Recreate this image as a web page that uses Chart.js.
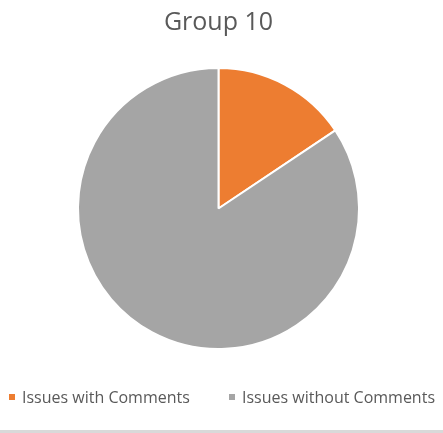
<!DOCTYPE html>
<html>
<head>
<meta charset="utf-8">
<script src="https://cdn.jsdelivr.net/npm/chart.js@4.4.0/dist/chart.umd.min.js"></script>
<style>
  html, body { margin: 0; padding: 0; background: #ffffff; }
  #wrap { width: 443px; height: 430px; border-bottom: 3px solid #d9d9d9; position: relative; }
  #legend { position: absolute; left: 0; top: 386px; width: 443px; height: 22px; font-family: 'Open Sans'; font-size: 16px; color: #595959; }
  .item { position: absolute; top: 0; height: 22px; line-height: 22px; white-space: nowrap; }
  .box { position: absolute; top: 8px; width: 6px; height: 6px; }
  .txt { position: absolute; top: 0; }
</style>
</head>
<body>
<div id="wrap"><canvas id="c" width="443" height="430"></canvas><div id="legend"></div></div>
<script>
const categories = ["Issues with Comments", "Issues without Comments"];
const values = [5, 27];
const colors = ["#ED7D31", "#A5A5A5"];
const titleText = "Group 10";
const legendX = [9, 229];

new Chart(document.getElementById('c'), {
  type: 'pie',
  data: {
    labels: categories,
    datasets: [{
      data: values,
      backgroundColor: colors,
      borderColor: '#ffffff',
      borderWidth: 2
    }]
  },
  options: {
    responsive: false,
    animation: false,
    layout: { padding: { top: 0, bottom: 80, left: 0, right: 6 } },
    plugins: {
      title: {
        display: true,
        text: titleText,
        color: '#595959',
        font: { family: "'Open Sans'", size: 25, weight: 'normal' },
        padding: { top: 8, bottom: 29 }
      },
      legend: { display: false },
      tooltip: { enabled: false }
    }
  }
});

const leg = document.getElementById('legend');
categories.forEach((cat, i) => {
  const it = document.createElement('div');
  it.className = 'item';
  it.style.left = legendX[i] + 'px';
  const b = document.createElement('span');
  b.className = 'box';
  b.style.left = '0px';
  b.style.background = colors[i];
  const t = document.createElement('span');
  t.className = 'txt';
  t.style.left = '13px';
  t.textContent = cat;
  it.appendChild(b);
  it.appendChild(t);
  leg.appendChild(it);
});
</script>
</body>
</html>
